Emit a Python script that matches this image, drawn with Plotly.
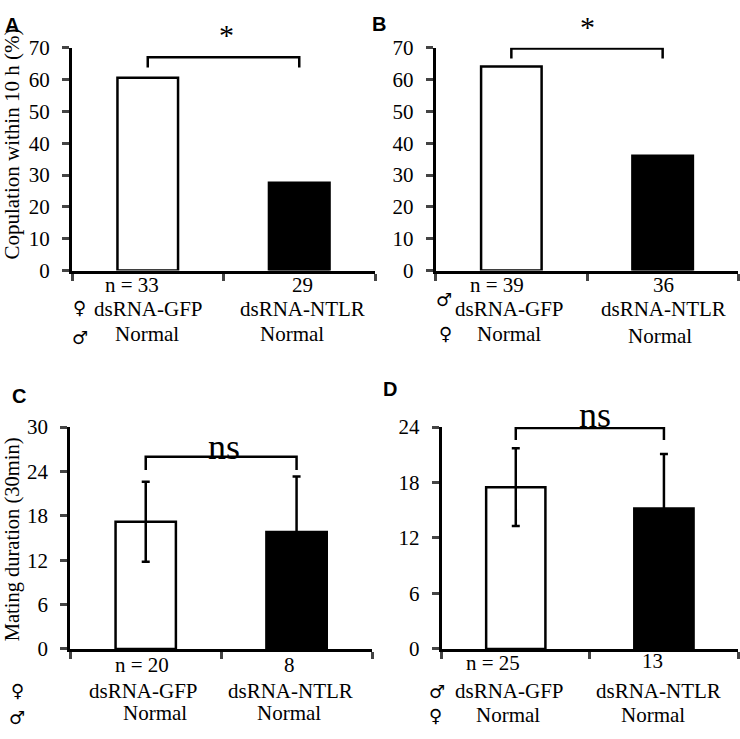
import plotly.graph_objects as go

W, H = 740, 739

# ---------------- data ----------------
groups = ["dsRNA-GFP", "dsRNA-NTLR"]
partners = ["Normal", "Normal"]

copulation_A = [60.6, 27.6]
n_A = [33, 29]
copulation_B = [64.1, 36.1]
n_B = [39, 36]

duration_C = [17.2, 15.8]
err_C = [5.4, 7.5]
n_C = [20, 8]
duration_D = [17.5, 15.2]
err_D = [4.2, 5.9]
n_D = [25, 13]

yticks_AB = [0, 10, 20, 30, 40, 50, 60, 70]
yticks_C = [0, 6, 12, 18, 24, 30]
yticks_D = [0, 6, 12, 18, 24]

sig_AB = "*"
sig_CD = "ns"
FEMALE, MALE = "\u2640", "\u2642"

bar_colors = ["white", "black"]
SERIF = "Liberation Serif"
SANS = "Liberation Sans"


def px(x):
    return x / W


def py(y):
    return 1 - y / H


panels = [
    dict(vals=copulation_A, errs=None, ns=n_A, ticks=yticks_AB, xd=(72, 375), yd=(37, 267.3),
         br=(63.8, 67.0)),
    dict(vals=copulation_B, errs=None, ns=n_B, ticks=yticks_AB, xd=(435.7, 738.3), yd=(37, 267.3),
         br=(66.6, 69.8)),
    dict(vals=duration_C, errs=err_C, ns=n_C, ticks=yticks_C, xd=(70.3, 372), yd=(429, 658.3),
         br=(24.2, 26.0)),
    dict(vals=duration_D, errs=err_D, ns=n_D, ticks=yticks_D, xd=(441.7, 738), yd=(429, 658.3),
         br=(22.6, 23.9)),
]

fig = go.Figure()
layout = dict(
    width=W, height=H, margin=dict(l=0, r=0, t=0, b=0),
    paper_bgcolor="white", plot_bgcolor="white", showlegend=False,
    annotations=[], shapes=[],
)

for i, p in enumerate(panels):
    k = "" if i == 0 else str(i + 1)
    xa, ya = "x" + k, "y" + k
    xcent = [0.5, 1.5]
    bar = go.Bar(
        x=xcent, y=p["vals"], width=0.4,
        marker=dict(color=bar_colors, line=dict(color="black", width=2.5)),
        xaxis=xa, yaxis=ya, hoverinfo="skip",
    )
    if p["errs"] is not None:
        bar.error_y = dict(type="data", array=p["errs"], visible=True,
                           color="black", thickness=2.5, width=4)
    fig.add_trace(bar)

    layout["xaxis" + k] = dict(
        domain=[px(p["xd"][0]), px(p["xd"][1])], range=[0, 2],
        tickvals=[0, 1, 2], showticklabels=False, ticks="outside", ticklen=7,
        tickwidth=3, showline=True, linewidth=3, linecolor="black",
        showgrid=False, zeroline=False, anchor=ya, fixedrange=True,
    )
    layout["yaxis" + k] = dict(
        domain=[py(p["yd"][1]), py(p["yd"][0])], range=[0, p["ticks"][-1]],
        tickvals=p["ticks"], ticks="outside", ticklen=7, tickwidth=3,
        showline=True, linewidth=3, linecolor="black", showgrid=False,
        zeroline=False, anchor=xa, ticklabelstandoff=8,
        tickfont=dict(family=SERIF, size=21, color="black"), fixedrange=True,
    )
    lo, hi = p["br"]
    layout["shapes"].append(dict(
        type="path", xref=xa, yref=ya,
        path=f"M {xcent[0]} {lo} L {xcent[0]} {hi} L {xcent[1]} {hi} L {xcent[1]} {lo}",
        line=dict(color="black", width=2.5),
    ))

ann = layout["annotations"]


def text(x, y, s, size=21, family=SERIF, **kw):
    ann.append(dict(x=px(x), y=py(y), xref="paper", yref="paper", text=s,
                    showarrow=False, font=dict(family=family, size=size, color="black"),
                    xanchor=kw.get("xanchor", "center"), yanchor="middle",
                    textangle=kw.get("textangle", 0)))


# panel letters
text(12, 13, "<b>A</b>", size=20, family=SANS)
text(379, 12, "<b>B</b>", size=20, family=SANS)
text(19, 397, "<b>C</b>", size=20, family=SANS)
text(390, 390, "<b>D</b>", size=20, family=SANS)

# y titles
text(12, 137, "Copulation within 10 h (%)", size=21, textangle=-90)
text(12, 545, "Mating duration (30min)", size=20.5, textangle=-90)

# significance marks
text(227, 23, sig_AB, size=30)
text(587, 15, sig_AB, size=30)
text(224, 450, sig_CD, size=36)
text(595, 417, sig_CD, size=36)

SYM = "DejaVu Sans"
# A
text(132, 282, f"n = {n_A[0]}")
text(302, 282, f"{n_A[1]}")
text(79, 305, FEMALE, size=18, family=SYM)
text(148, 307, groups[0])
text(302, 307, groups[1])
text(80, 336, MALE, size=18, family=SYM)
text(147, 333, partners[0])
text(292, 333, partners[1])
# B
text(497, 282, f"n = {n_B[0]}")
text(663, 282, f"{n_B[1]}")
text(444, 297, MALE, size=18, family=SYM)
text(510, 307, groups[0])
text(663, 307, groups[1])
text(446, 332, FEMALE, size=18, family=SYM)
text(509, 333, partners[0])
text(660, 335, partners[1])
# C
text(142, 675, f"n = {n_C[0]}")
text(289, 675, f"{n_C[1]}")
text(17, 701, FEMALE, size=18, family=SYM)
text(143, 702, groups[0])
text(290, 702, groups[1])
text(17, 729, MALE, size=18, family=SYM)
text(155, 725, partners[0])
text(289, 725, partners[1])
# D
text(493, 673, f"n = {n_D[0]}")
text(652, 671, f"{n_D[1]}")
text(437, 702, MALE, size=18, family=SYM)
text(510, 702, groups[0])
text(658, 702, groups[1])
text(435, 727, FEMALE, size=18, family=SYM)
text(508, 727, partners[0])
text(653, 727, partners[1])

fig.update_layout(**layout)
fig.write_html("out.html", config={"displayModeBar": False},
               post_script="document.body.style.margin='0';document.body.style.overflow='hidden';")
